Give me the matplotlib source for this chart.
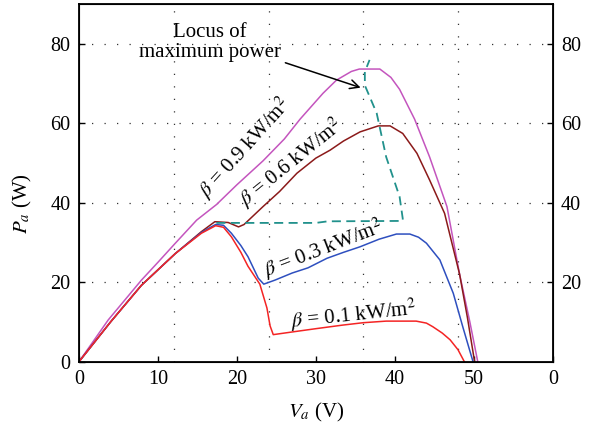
import matplotlib
matplotlib.use("Agg")
import matplotlib.pyplot as plt

plt.rcParams['font.family'] = ['Liberation Serif', 'DejaVu Serif']
plt.rcParams['mathtext.fontset'] = 'stix'

# ---- data ----
v_09 = [0, 3.7, 7.9, 10, 12.2, 14.9, 17.4, 20, 23.3, 26, 28, 30.9, 32.6, 34.5, 35.5, 38.1, 39.5, 40.6, 42.5, 44.4, 46.6, 48.2, 49.5, 50.5]
p_09 = [0, 10.5, 20.5, 25, 29.8, 35.6, 39.5, 44.5, 50.5, 56, 61, 67.5, 70.8, 73, 73.6, 73.6, 71.5, 68.5, 61, 51.5, 39, 22, 10, 0]

v_06 = [0, 4, 7.9, 12.2, 15.5, 17.2, 18.9, 20.2, 20.9, 23.3, 25.4, 27.6, 30, 31.8, 33.5, 35.6, 37.9, 39.4, 41, 42.8, 44.4, 46.3, 48.2, 49.2, 50.1]
p_06 = [0, 10, 19.2, 27.2, 32.7, 35.2, 35, 33.9, 34.5, 39, 42.8, 47.4, 51.2, 53.2, 55.5, 57.8, 59.3, 59.3, 57.4, 52.4, 45.7, 37.3, 22, 11, 0]

v_03 = [0, 4, 7.9, 12.2, 15.5, 17.3, 18.3, 19.3, 20.5, 21.4, 22.7, 23.4, 24.8, 27, 29, 31.4, 33.5, 35.6, 38, 40.2, 41.9, 43, 44, 45.7, 47.4, 48.6, 49.9]
p_03 = [0, 10, 19.2, 27.2, 32.5, 34.5, 34.3, 32.3, 29.2, 26.4, 21, 19.5, 20.5, 22.3, 23.6, 26, 27.5, 28.9, 30.8, 32.1, 32.1, 31.3, 29.8, 25.6, 17.2, 8.8, 0]

v_01 = [0, 4, 7.9, 12.2, 15.5, 17.3, 18.3, 19.3, 20.5, 21.4, 22.9, 23.8, 24.2, 24.6, 27.1, 30, 33.4, 36, 38.9, 42.7, 44, 44.8, 46, 47, 48, 48.8]
p_01 = [0, 10, 19.2, 27.2, 32.3, 34.2, 33.8, 31.4, 27.5, 24, 19.5, 13.5, 9, 6.8, 7.5, 8.3, 9.2, 9.8, 10.2, 10.2, 9.7, 8.8, 7.2, 5.5, 3, 0]

v_locus = [17.4, 24, 30, 31.5, 41.0, 41.0, 40.6, 38.9, 37.7, 36.2, 36.2, 36.8]
p_locus = [34.9, 34.9, 34.9, 35.3, 35.4, 36, 41.5, 51.5, 62.5, 69.5, 72.9, 75.9]

x_ticks = [0, 10, 20, 30, 40, 50, 60]
x_ticklabels = ['0', '10', '20', '30', '40', '50', '0']
x_grid = [12, 24, 36, 48]
y_ticks_left = [0, 20, 40, 60, 80]
y_ticks_right = [20, 40, 60, 80]
y_grid = [20, 40, 60, 80]

labels = [r'$\beta$ = 0.9 kW/m$^2$', r'$\beta$ = 0.6 kW/m$^2$',
          r'$\beta$ = 0.3 kW/m$^2$', r'$\beta$ = 0.1 kW/m$^2$']

# ---- figure ----
fig = plt.figure(figsize=(5.95, 4.26), dpi=100)
ax = fig.add_axes([0.1328, 0.151, 0.7962, 0.840])

for g in x_grid:
    ax.axvline(g, color='#333333', lw=0.9, ls=(0, (1, 9)), zorder=0)
for g in y_grid:
    ax.axhline(g, color='#333333', lw=0.9, ls=(0, (1, 9)), zorder=0)

ax.plot(v_09, p_09, color='#C455BE', lw=1.1)
ax.plot(v_06, p_06, color='#8B1A1A', lw=1.1)
ax.plot(v_03, p_03, color='#2E4FBF', lw=1.1)
ax.plot(v_01, p_01, color='#F42424', lw=1.1)
ax.plot(v_locus, p_locus, color='#21918C', lw=1.3, dashes=(5, 3))

ax.set_xlim(0, 60)
ax.set_ylim(0, 90)
ax.set_xticks(x_ticks)
ax.set_xticklabels(x_ticklabels)
ax.set_yticks(y_ticks_left)
ax.tick_params(direction='in', length=4, width=1, labelsize=14.5, pad=6)
for s in ax.spines.values():
    s.set_linewidth(1.3)

ax2 = ax.twinx()
ax2.set_ylim(0, 90)
ax2.set_yticks(y_ticks_right)
ax2.tick_params(direction='in', length=4, width=1, labelsize=14.5, pad=6)

ax.set_xlabel(r'$V_a$ (V)', fontsize=15)
ax.set_ylabel(r'$P_a$ (W)', fontsize=15)
ax.yaxis.set_label_coords(-0.095, 0.443)
ax.xaxis.set_label_coords(0.5, -0.11)

ax.text(21.0, 53.9, labels[0], rotation=48, fontsize=15, ha='center', va='center')
ax.text(26.9, 50.2, labels[1], rotation=39, fontsize=15, ha='center', va='center')
ax.text(30.9, 28.5, labels[2], rotation=21, fontsize=15, ha='center', va='center')
ax.text(34.8, 11.9, labels[3], rotation=6, fontsize=15, ha='center', va='center')

ax.text(16.6, 80.3, 'Locus of\nmaximum power', fontsize=15, ha='center', va='center',
        linespacing=1.1)
ax.annotate('', xy=(36.0, 68.7), xytext=(25.8, 75.4),
            arrowprops=dict(arrowstyle='->', color='black', lw=1.1, mutation_scale=16))

fig.savefig('out.png', dpi=100)
